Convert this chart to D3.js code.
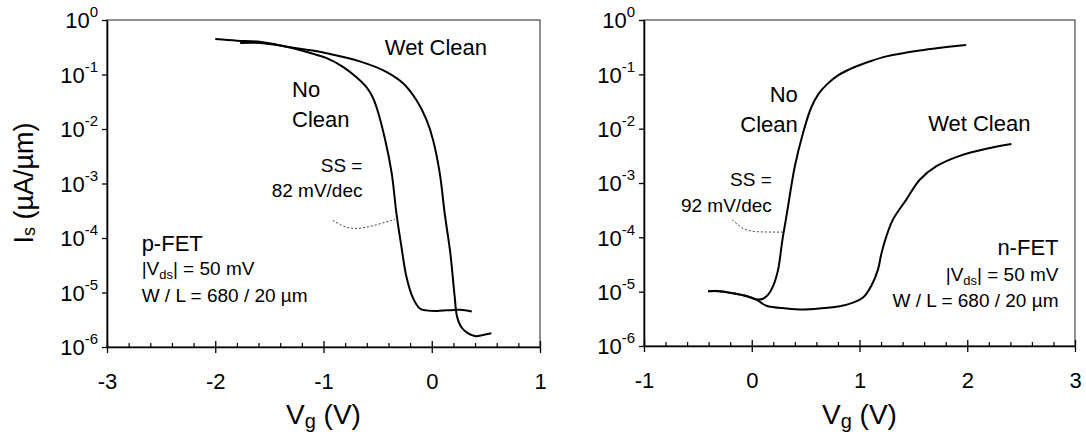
<!DOCTYPE html>
<html>
<head>
<meta charset="utf-8">
<script src="https://cdn.jsdelivr.net/npm/d3@7"></script>
<style>
  body { margin: 0; background: #fff; }
  svg { display: block; }
  text { font-family: "Liberation Sans", Arial, Helvetica, sans-serif; fill: #000; }
</style>
</head>
<body>
<div id="chart"></div>
<script>
// decades on the current axis (µA/µm)
const currentTicks = [1, 1e-1, 1e-2, 1e-3, 1e-4, 1e-5, 1e-6]
const pGateTicks = [-3, -2, -1, 0, 1]
const nGateTicks = [-1, 0, 1, 2, 3]

// p-FET, [Vg (V), Is (µA/µm)]
const pNoClean = [
  [-2.0, 0.447], [-1.8, 0.417], [-1.59, 0.398], [-1.28, 0.302], [-1.13, 0.251],
  [-0.97, 0.200], [-0.82, 0.138], [-0.69, 0.087], [-0.60, 0.0575], [-0.55, 0.040],
  [-0.51, 0.0251], [-0.43, 0.0063], [-0.37, 0.00155], [-0.326, 2.8e-4], [-0.28, 6.9e-5],
  [-0.234, 1.95e-5], [-0.172, 7.8e-6], [-0.111, 5.1e-6], [-0.05, 4.7e-6], [0.05, 4.6e-6],
  [0.14, 4.7e-6], [0.26, 4.8e-6], [0.37, 4.5e-6]
]
const pWetClean = [
  [-1.77, 0.38], [-1.59, 0.38], [-1.4, 0.34], [-1.28, 0.31], [-1.1, 0.275],
  [-0.97, 0.245], [-0.665, 0.174], [-0.42, 0.112], [-0.265, 0.069], [-0.142, 0.034],
  [-0.049, 0.0148], [0.012, 0.0063], [0.074, 0.00155], [0.12, 2.8e-4], [0.172, 5.2e-5],
  [0.212, 8.3e-6], [0.234, 3.6e-6], [0.274, 2.3e-6], [0.336, 1.78e-6], [0.406, 1.58e-6],
  [0.474, 1.66e-6], [0.551, 1.78e-6]
]
// n-FET
const nNoClean = [
  [-0.405, 1.02e-5], [-0.30, 1.02e-5], [-0.17, 9.3e-6], [-0.05, 8.3e-6], [0.04, 7.2e-6],
  [0.105, 7.4e-6], [0.15, 8.7e-6], [0.20, 1.29e-5], [0.245, 2.57e-5], [0.285, 9.1e-5],
  [0.322, 2.45e-4], [0.40, 0.00204], [0.476, 0.0083], [0.55, 0.024], [0.62, 0.0437],
  [0.70, 0.066], [0.80, 0.0955], [0.94, 0.132], [1.10, 0.174], [1.25, 0.214],
  [1.56, 0.275], [1.99, 0.347]
]
const nWetClean = [
  [-0.405, 1.02e-5], [-0.30, 1.02e-5], [-0.17, 9.3e-6], [-0.05, 8.3e-6], [0.04, 7.2e-6],
  [0.136, 5.5e-6], [0.322, 4.9e-6], [0.476, 4.7e-6], [0.631, 4.9e-6], [0.817, 5.4e-6],
  [0.94, 6.3e-6], [1.033, 7.8e-6], [1.11, 1.29e-5], [1.172, 2.57e-5], [1.203, 5.0e-5],
  [1.25, 1.05e-4], [1.311, 2.14e-4], [1.436, 5.0e-4], [1.559, 0.00115], [1.714, 0.00204],
  [1.93, 0.00316], [2.178, 0.00427], [2.41, 0.0052]
]
// dotted SS pointers
const pSlopeMark = [[-0.914, 2.1e-4], [-0.80, 1.55e-4], [-0.69, 1.45e-4], [-0.55, 1.65e-4], [-0.34, 2.2e-4]]
const nSlopeMark = [[-0.18, 2.1e-4], [-0.10, 1.5e-4], [-0.02, 1.28e-4], [0.12, 1.25e-4], [0.29, 1.25e-4]]

const width = 1086
const height = 437

const svg = d3.select('#chart').append('svg')
  .attr('width', width)
  .attr('height', height)

function drawPanel ({ left, right, top, bottom, xDomain, xTicks, curves, slope, labels }) {
  const x = d3.scaleLinear().domain(xDomain).range([left, right])
  const y = d3.scaleLog().domain([1e-6, 1]).range([bottom, top])

  // frame
  svg.append('rect')
    .attr('x', left).attr('y', top)
    .attr('width', right - left).attr('height', bottom - top)
    .attr('fill', 'none')
    .attr('stroke', '#222')
    .attr('stroke-width', 1)

  // y axis
  const yAxis = svg.append('g')
    .attr('transform', `translate(${left},0)`)
    .call(d3.axisLeft(y).tickValues(currentTicks).tickSize(5).tickSizeOuter(0).tickPadding(4).tickFormat(''))
  yAxis.select('.domain').attr('stroke-width', 1.6)
  yAxis.selectAll('.tick line').attr('stroke-width', 1.3)
  yAxis.selectAll('.tick text').each(function (d) {
    const t = d3.select(this).attr('font-size', 22).attr('dy', '0.36em')
    t.append('tspan').text('10')
    t.append('tspan').attr('font-size', 15).attr('dy', '-0.75em').text(Math.round(Math.log10(d)))
  })

  // x axis, major ticks cross the axis
  const xAxis = svg.append('g')
    .attr('transform', `translate(0,${bottom})`)
    .call(d3.axisBottom(x).tickValues(xTicks).tickSize(6).tickSizeOuter(0).tickPadding(20).tickFormat(d3.format('d')))
  xAxis.select('.domain').attr('stroke-width', 1.6)
  xAxis.selectAll('.tick line').attr('stroke-width', 1.3)
  xAxis.selectAll('.tick').append('line')
    .attr('y2', -6).attr('stroke', 'currentColor').attr('stroke-width', 1.3)
  xAxis.selectAll('.tick text').attr('font-size', 22).text(d => d < 0 ? '-' + Math.abs(d) : d)

  const minor = d3.range(0, (xDomain[1] - xDomain[0]) * 5 + 1)
    .map(i => xDomain[0] + i * 0.2)
    .filter(v => Math.abs(v - Math.round(v)) > 0.01)
  svg.append('g')
    .attr('transform', `translate(0,${bottom})`)
    .call(d3.axisBottom(x).tickValues(minor).tickSize(-4).tickSizeOuter(0).tickFormat(''))
    .call(g => g.select('.domain').remove())
    .selectAll('.tick line').attr('stroke-width', 1.2)

  const line = d3.line()
    .x(d => x(d[0]))
    .y(d => y(d[1]))
    .curve(d3.curveCatmullRom.alpha(0.5))

  curves.forEach(c => {
    svg.append('path')
      .attr('d', line(c))
      .attr('fill', 'none')
      .attr('stroke', '#000')
      .attr('stroke-width', 2)
  })

  svg.append('path')
    .attr('d', line.curve(d3.curveBasis)(slope))
    .attr('fill', 'none')
    .attr('stroke', '#444')
    .attr('stroke-width', 1)
    .attr('stroke-dasharray', '2,2')

  labels.forEach(l => {
    const t = svg.append('text')
      .attr('x', x(l.v)).attr('y', y(l.i))
      .attr('font-size', l.size)
      .attr('text-anchor', l.anchor || 'start')
    if (l.sub) {
      t.append('tspan').text(l.text[0])
      t.append('tspan').attr('font-size', l.size * 0.68).attr('dy', '0.3em').text(l.sub)
      t.append('tspan').attr('dy', '-0.2em').text(l.text[1])
    } else {
      t.text(l.text)
    }
  })

  // x title
  const xt = svg.append('text')
    .attr('x', (left + right) / 2).attr('y', 424)
    .attr('text-anchor', 'middle')
    .attr('font-size', 28)
  xt.append('tspan').text('V')
  xt.append('tspan').attr('font-size', 20).attr('dy', '0.22em').text('g')
  xt.append('tspan').attr('dy', '-0.16em').text(' (V)')

  return { x, y }
}

drawPanel({
  left: 107, right: 540, top: 20, bottom: 347,
  xDomain: [-3, 1], xTicks: pGateTicks,
  curves: [pNoClean, pWetClean],
  slope: pSlopeMark,
  labels: [
    { text: 'Wet Clean', v: -0.434, i: 0.23, size: 22 },
    { text: 'No', v: -1.29, i: 0.039, size: 22 },
    { text: 'Clean', v: -1.29, i: 0.011, size: 22 },
    { text: 'SS =', v: -0.64, i: 0.00162, size: 19, anchor: 'end' },
    { text: '82 mV/dec', v: -0.64, i: 0.00056, size: 19, anchor: 'end' },
    { text: 'p-FET', v: -2.68, i: 5.8e-5, size: 22 },
    { text: ['|V', '| = 50 mV'], sub: 'ds', v: -2.68, i: 2.1e-5, size: 19 },
    { text: 'W / L = 680 / 20 µm', v: -2.68, i: 6.8e-6, size: 19 }
  ]
})

drawPanel({
  left: 644, right: 1075, top: 20, bottom: 346,
  xDomain: [-1, 3], xTicks: nGateTicks,
  curves: [nNoClean, nWetClean],
  slope: nSlopeMark,
  labels: [
    { text: 'No', v: 0.427, i: 0.031, size: 22, anchor: 'end' },
    { text: 'Clean', v: 0.427, i: 0.0088, size: 22, anchor: 'end' },
    { text: 'Wet Clean', v: 1.637, i: 0.0092, size: 22 },
    { text: 'SS =', v: 0.186, i: 0.00087, size: 19, anchor: 'end' },
    { text: '92 mV/dec', v: 0.186, i: 0.00029, size: 19, anchor: 'end' },
    { text: 'n-FET', v: 2.847, i: 4.8e-5, size: 22, anchor: 'end' },
    { text: ['|V', '| = 50 mV'], sub: 'ds', v: 2.847, i: 1.57e-5, size: 19, anchor: 'end' },
    { text: 'W / L = 680 / 20 µm', v: 2.847, i: 5.3e-6, size: 19, anchor: 'end' }
  ]
})

// shared y title
const yt = svg.append('text')
  .attr('transform', 'translate(33,183) rotate(-90)')
  .attr('text-anchor', 'middle')
  .attr('font-size', 27)
yt.append('tspan').text('I')
yt.append('tspan').attr('font-size', 18).attr('dy', '0.12em').text('s')
yt.append('tspan').attr('dy', '-0.08em').text(' (µA/µm)')
</script>
</body>
</html>
